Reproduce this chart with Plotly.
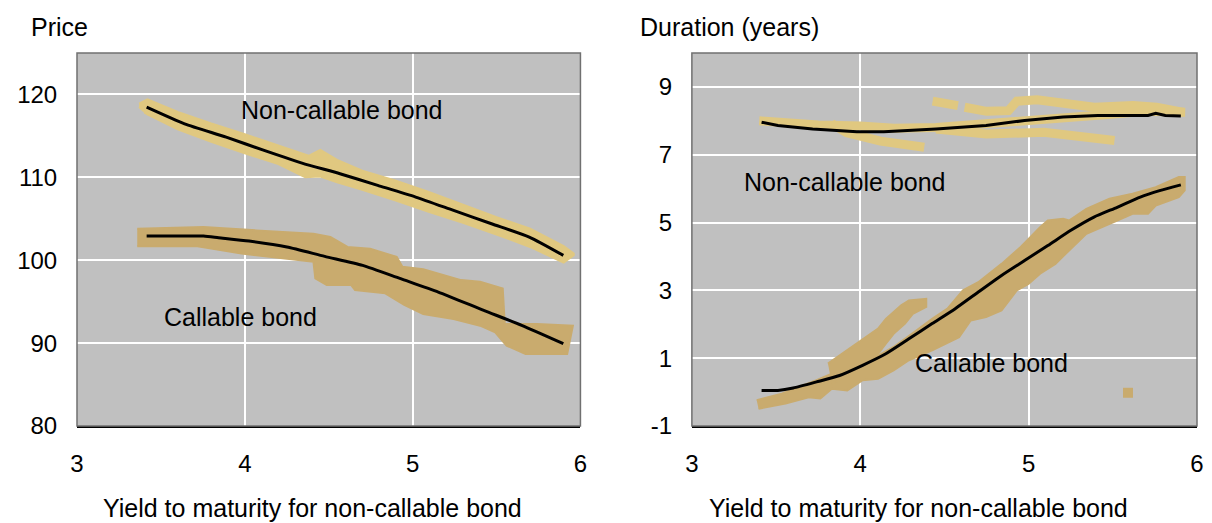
import plotly.graph_objects as go

# ---------------- Left panel: Price ----------------
nc_price_x = [3.415, 3.641, 3.889, 4.115, 4.341, 4.567, 4.792, 5.018, 5.244, 5.470, 5.695, 5.898]
nc_price_y = [118.47, 116.46, 114.85, 113.25, 111.72, 110.43, 109.03, 107.62, 106.01, 104.40, 102.79, 100.58]
c_price_x = [3.415, 3.754, 3.844, 4.025, 4.251, 4.476, 4.702, 4.928, 5.153, 5.424, 5.650, 5.898]
c_price_y = [102.91, 102.91, 102.71, 102.31, 101.59, 100.46, 99.38, 97.77, 96.16, 93.95, 92.14, 89.93]

# simulated price cloud, non-callable (upper / lower envelope)
nc_band_up_x = [3.37, 3.42, 3.6, 3.8, 4.0, 4.2, 4.38, 4.45, 4.55, 4.7, 4.9, 5.1, 5.3, 5.5, 5.7, 5.9, 5.96]
nc_band_up_y = [118.9, 119.4, 117.9, 116.5, 115.2, 113.8, 112.6, 113.3, 112.1, 110.8, 109.6, 108.2, 106.7, 105.2, 103.8, 101.7, 100.8]
nc_band_lo_x = [3.37, 3.42, 3.6, 3.8, 4.0, 4.2, 4.36, 4.45, 4.55, 4.7, 4.9, 5.1, 5.3, 5.5, 5.7, 5.9, 5.96]
nc_band_lo_y = [118.5, 117.6, 115.8, 114.3, 112.9, 111.6, 110.0, 110.1, 109.4, 108.5, 107.2, 105.8, 104.5, 103.1, 101.6, 99.7, 100.6]

# simulated price cloud, callable
c_band_up_x = [3.359, 3.754, 4.070, 4.409, 4.510, 4.612, 4.747, 4.905, 4.939, 5.063, 5.289, 5.402, 5.537, 5.549, 5.740, 5.955]
c_band_up_y = [103.8, 104.0, 103.6, 103.2, 102.8, 101.6, 101.4, 100.4, 99.2, 98.9, 97.6, 97.4, 96.6, 92.3, 92.3, 92.1]
c_band_lo_x = [3.359, 3.709, 3.799, 3.980, 4.409, 4.420, 4.488, 4.634, 4.657, 4.837, 4.950, 5.063, 5.244, 5.402, 5.492, 5.560, 5.673, 5.921, 5.955]
c_band_lo_y = [101.7, 101.7, 101.4, 100.8, 99.8, 97.8, 97.0, 97.0, 96.4, 96.0, 94.6, 93.5, 92.9, 92.1, 91.3, 89.7, 88.7, 88.7, 92.1]

# ---------------- Right panel: Duration ----------------
nc_dur_x = [3.414, 3.511, 3.717, 3.980, 4.140, 4.450, 4.747, 4.976, 5.205, 5.411, 5.709, 5.755, 5.812, 5.904]
nc_dur_y = [7.96, 7.86, 7.76, 7.68, 7.68, 7.76, 7.86, 8.01, 8.11, 8.16, 8.16, 8.22, 8.16, 8.14]
c_dur_x = [3.414, 3.511, 3.602, 3.740, 3.877, 4.014, 4.152, 4.289, 4.427, 4.564, 4.701, 4.839, 4.976, 5.114, 5.251, 5.388, 5.526, 5.663, 5.778, 5.904]
c_dur_y = [0.05, 0.05, 0.12, 0.30, 0.49, 0.79, 1.13, 1.57, 2.02, 2.46, 2.95, 3.44, 3.88, 4.32, 4.77, 5.16, 5.45, 5.75, 5.94, 6.11]

# non-callable duration cloud: several strands
ncd_strands = [
    ([3.40, 3.55, 3.75, 4.0, 4.2, 4.45, 4.7, 4.95, 5.2, 5.45, 5.7, 5.93],
     [8.0, 7.92, 7.88, 7.85, 7.78, 7.8, 7.88, 8.02, 8.1, 8.18, 8.28, 8.25]),
    ([3.83, 3.92, 4.12, 4.38], [7.92, 7.65, 7.40, 7.22]),
    ([4.45, 4.75, 5.09, 5.2, 5.43, 5.51], [7.76, 7.61, 7.66, 7.61, 7.52, 7.42]),
    ([4.43, 4.58], [8.58, 8.45]),
    ([4.62, 4.75, 4.88, 4.93, 5.05, 5.2, 5.39, 5.62, 5.76, 5.92],
     [8.40, 8.28, 8.30, 8.58, 8.62, 8.55, 8.40, 8.45, 8.40, 8.25]),
]

# callable duration cloud: main envelope
cd_up_x = [3.385, 3.534, 3.740, 3.877, 4.060, 4.198, 4.335, 4.427, 4.518, 4.610, 4.701, 4.839, 4.953, 5.068, 5.114, 5.205, 5.240, 5.343, 5.480, 5.617, 5.755, 5.892, 5.927]
cd_up_y = [-0.24, -0.05, 0.35, 0.64, 0.94, 1.33, 1.82, 2.16, 2.46, 3.00, 3.24, 3.78, 4.28, 4.86, 5.06, 5.11, 5.06, 5.40, 5.70, 5.85, 6.04, 6.34, 6.34]
cd_lo_x = [3.396, 3.556, 3.694, 3.763, 3.831, 3.923, 4.014, 4.106, 4.198, 4.289, 4.427, 4.587, 4.656, 4.747, 4.839, 4.930, 4.999, 5.068, 5.159, 5.251, 5.343, 5.434, 5.526, 5.617, 5.709, 5.755, 5.892, 5.927]
cd_lo_y = [-0.49, -0.34, -0.15, -0.19, 0.10, 0.05, 0.35, 0.39, 0.64, 0.94, 1.23, 1.62, 2.11, 2.21, 2.41, 3.00, 3.19, 3.49, 3.78, 4.23, 4.67, 4.86, 5.06, 5.26, 5.26, 5.50, 5.75, 5.95]
# callable duration cloud: upper branch
cb_up_x = [3.808, 3.923, 4.037, 4.106, 4.152, 4.243, 4.289, 4.392]
cb_up_y = [0.84, 1.23, 1.62, 1.87, 2.16, 2.56, 2.70, 2.75]
cb_lo_x = [3.831, 3.877, 3.946, 4.037, 4.106, 4.152, 4.198, 4.266, 4.312, 4.392]
cb_lo_y = [0.25, 0.35, 0.64, 0.84, 1.13, 1.43, 1.72, 2.02, 2.31, 2.51]
# isolated outlier
outlier_x = [5.59]
outlier_y = [-0.02]

x_ticks = [3, 4, 5, 6]
price_ticks = [80, 90, 100, 110, 120]
dur_ticks = [-1, 1, 3, 5, 7, 9]
dur_ticktext = ["-1", "1", "3", "5", "7", "9"]

LIGHT = "#E0C880"
DARK = "#C9AB6E"
FONT = "Liberation Sans, Arial, sans-serif"
TICK_SIZE = 24
TEXT_SIZE = 25

fig = go.Figure()


def poly(ux, uy, lx, ly, color, xa, ya):
    fig.add_trace(go.Scatter(x=ux + lx[::-1], y=uy + ly[::-1], mode="lines",
                             fill="toself", fillcolor=color,
                             line=dict(color=color, width=2),
                             xaxis=xa, yaxis=ya, hoverinfo="skip", showlegend=False))


# left panel
fig.add_trace(go.Scatter(x=nc_price_x, y=nc_price_y, mode="lines", line=dict(color=LIGHT, width=14),
                         xaxis="x", yaxis="y", hoverinfo="skip", showlegend=False))
poly(nc_band_up_x, nc_band_up_y, nc_band_lo_x, nc_band_lo_y, LIGHT, "x", "y")
poly(c_band_up_x, c_band_up_y, c_band_lo_x, c_band_lo_y, DARK, "x", "y")
fig.add_trace(go.Scatter(x=nc_price_x, y=nc_price_y, mode="lines",
                         line=dict(color="black", width=3, shape="spline", smoothing=0.6),
                         xaxis="x", yaxis="y", showlegend=False))
fig.add_trace(go.Scatter(x=c_price_x, y=c_price_y, mode="lines",
                         line=dict(color="black", width=3, shape="spline", smoothing=0.6),
                         xaxis="x", yaxis="y", showlegend=False))

# right panel
for sx, sy in ncd_strands:
    fig.add_trace(go.Scatter(x=sx, y=sy, mode="lines", line=dict(color=LIGHT, width=9),
                             xaxis="x2", yaxis="y2", hoverinfo="skip", showlegend=False))
poly(cd_up_x, cd_up_y, cd_lo_x, cd_lo_y, DARK, "x2", "y2")
poly(cb_up_x, cb_up_y, cb_lo_x, cb_lo_y, DARK, "x2", "y2")
fig.add_trace(go.Scatter(x=outlier_x, y=outlier_y, mode="markers",
                         marker=dict(symbol="square", size=10, color=DARK),
                         xaxis="x2", yaxis="y2", showlegend=False))
fig.add_trace(go.Scatter(x=nc_dur_x, y=nc_dur_y, mode="lines", line=dict(color="black", width=3),
                         xaxis="x2", yaxis="y2", showlegend=False))
fig.add_trace(go.Scatter(x=c_dur_x, y=c_dur_y, mode="lines",
                         line=dict(color="black", width=3, shape="spline", smoothing=0.6),
                         xaxis="x2", yaxis="y2", showlegend=False))

xcommon = dict(range=[3, 6], tickvals=x_ticks, showgrid=True, gridcolor="white", gridwidth=1.5,
               zeroline=False, showline=True, linecolor="black", linewidth=2,
               ticks="outside", ticklen=15, tickcolor="rgba(0,0,0,0)",
               tickfont=dict(size=TICK_SIZE, color="black", family=FONT))
ycommon = dict(showgrid=True, gridcolor="white", gridwidth=1.5, zeroline=False,
               showline=False, ticks="outside", ticklen=14, tickcolor="rgba(0,0,0,0)",
               tickfont=dict(size=TICK_SIZE, color="black", family=FONT))

fig.update_layout(
    width=1204, height=515,
    margin=dict(l=63, r=8.7, t=44.7, b=97.3),
    paper_bgcolor="white", plot_bgcolor="#C0C0C0",
    font=dict(family=FONT, size=TEXT_SIZE, color="black"),
    xaxis=dict(domain=[0, 0.4495], anchor="y", **xcommon),
    yaxis=dict(domain=[0, 1], anchor="x", range=[80, 125], tickvals=price_ticks, **ycommon),
    xaxis2=dict(domain=[0.549, 1], anchor="y2", **xcommon),
    yaxis2=dict(domain=[0, 1], anchor="x2", range=[-1, 10], tickvals=dur_ticks, ticktext=dur_ticktext,
                **ycommon),
    shapes=[
        dict(type="rect", xref="x domain", yref="y domain", x0=0, x1=1, y0=0, y1=1,
             line=dict(color="#707070", width=1.5), layer="above"),
        dict(type="rect", xref="x2 domain", yref="y2 domain", x0=0, x1=1, y0=0, y1=1,
             line=dict(color="#707070", width=1.5), layer="above"),
    ],
    annotations=[
        dict(text="Price", xref="paper", yref="paper", x=-0.0427, y=1.069, xanchor="left", yanchor="middle",
             showarrow=False),
        dict(text="Duration (years)", xref="paper", yref="paper", x=0.501, y=1.069, xanchor="left",
             yanchor="middle", showarrow=False),
        dict(text="Yield to maturity for non-callable bond", xref="paper", yref="paper", x=0.21, y=-0.22,
             xanchor="center", yanchor="middle", showarrow=False),
        dict(text="Yield to maturity for non-callable bond", xref="paper", yref="paper", x=0.751, y=-0.22,
             xanchor="center", yanchor="middle", showarrow=False),
        dict(text="Non-callable bond", xref="x", yref="y", x=3.963, y=118.1, xanchor="left", yanchor="middle",
             showarrow=False),
        dict(text="Callable bond", xref="x", yref="y", x=3.507, y=93.1, xanchor="left", yanchor="middle",
             showarrow=False),
        dict(text="Non-callable bond", xref="x2", yref="y2", x=3.30, y=6.19, xanchor="left", yanchor="middle",
             showarrow=False),
        dict(text="Callable bond", xref="x2", yref="y2", x=4.314, y=0.85, xanchor="left", yanchor="middle",
             showarrow=False),
    ],
)

fig.write_html("out.html")
